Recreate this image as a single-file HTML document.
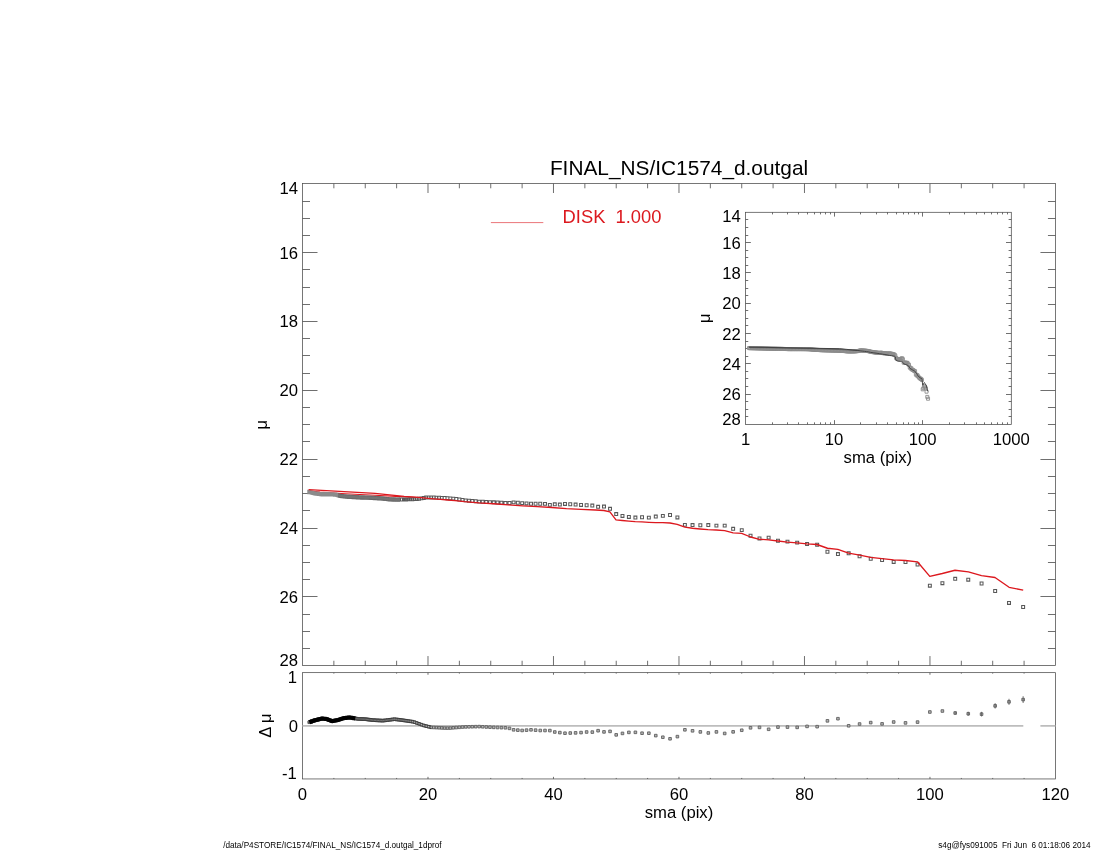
<!DOCTYPE html>
<html><head><meta charset="utf-8"><title>IC1574 1D profile</title>
<style>
html,body{margin:0;padding:0;background:#fff;}
body{width:1100px;height:850px;overflow:hidden;}
svg{display:block;font-family:"Liberation Sans",Arial,Helvetica,sans-serif;fill:#000;}
.fr{fill:none;stroke:#4a4a4a;stroke-width:0.75;}
.tk{stroke:#4a4a4a;stroke-width:0.8;fill:none;}
.sq{fill:none;stroke:#585858;stroke-width:1.05;}
.sq2{fill:#b4b4b4;stroke:#606060;stroke-width:0.9;}
.sq3{fill:none;stroke:#8c8c8c;stroke-width:0.9;}
.lab{font-size:16.67px;}
</style></head><body>
<svg width="1100" height="850" viewBox="0 0 1100 850">
<rect width="1100" height="850" fill="#fff"/>

<path class="tk" d="M333.87 183.6v4.7M333.87 665.45v-4.7M365.25 183.6v4.7M365.25 665.45v-4.7M396.62 183.6v4.7M396.62 665.45v-4.7M427.99 183.6v9.4M427.99 665.45v-9.4M459.36 183.6v4.7M459.36 665.45v-4.7M490.74 183.6v4.7M490.74 665.45v-4.7M522.11 183.6v4.7M522.11 665.45v-4.7M553.48 183.6v9.4M553.48 665.45v-9.4M584.86 183.6v4.7M584.86 665.45v-4.7M616.23 183.6v4.7M616.23 665.45v-4.7M647.6 183.6v4.7M647.6 665.45v-4.7M678.98 183.6v9.4M678.98 665.45v-9.4M710.35 183.6v4.7M710.35 665.45v-4.7M741.72 183.6v4.7M741.72 665.45v-4.7M773.09 183.6v4.7M773.09 665.45v-4.7M804.47 183.6v9.4M804.47 665.45v-9.4M835.84 183.6v4.7M835.84 665.45v-4.7M867.21 183.6v4.7M867.21 665.45v-4.7M898.59 183.6v4.7M898.59 665.45v-4.7M929.96 183.6v9.4M929.96 665.45v-9.4M961.33 183.6v4.7M961.33 665.45v-4.7M992.7 183.6v4.7M992.7 665.45v-4.7M1024.08 183.6v4.7M1024.08 665.45v-4.7M302.5 201.5h7.5M1055.45 201.5h-7.5M302.5 218.5h7.5M1055.45 218.5h-7.5M302.5 235.5h7.5M1055.45 235.5h-7.5M302.5 252.5h15M1055.45 252.5h-15M302.5 269.5h7.5M1055.45 269.5h-7.5M302.5 287.5h7.5M1055.45 287.5h-7.5M302.5 304.5h7.5M1055.45 304.5h-7.5M302.5 321.5h15M1055.45 321.5h-15M302.5 338.5h7.5M1055.45 338.5h-7.5M302.5 355.5h7.5M1055.45 355.5h-7.5M302.5 373.5h7.5M1055.45 373.5h-7.5M302.5 390.5h15M1055.45 390.5h-15M302.5 407.5h7.5M1055.45 407.5h-7.5M302.5 424.5h7.5M1055.45 424.5h-7.5M302.5 441.5h7.5M1055.45 441.5h-7.5M302.5 459.5h15M1055.45 459.5h-15M302.5 476.5h7.5M1055.45 476.5h-7.5M302.5 493.5h7.5M1055.45 493.5h-7.5M302.5 510.5h7.5M1055.45 510.5h-7.5M302.5 528.5h15M1055.45 528.5h-15M302.5 545.5h7.5M1055.45 545.5h-7.5M302.5 562.5h7.5M1055.45 562.5h-7.5M302.5 579.5h7.5M1055.45 579.5h-7.5M302.5 596.5h15M1055.45 596.5h-15M302.5 614.5h7.5M1055.45 614.5h-7.5M302.5 631.5h7.5M1055.45 631.5h-7.5M302.5 648.5h7.5M1055.45 648.5h-7.5"/>
<rect class="fr" x="302.5" y="183.6" width="752.95" height="481.85"/>
<path class="tk" d="M333.87 672.65v1M333.87 778.95v-1M365.25 672.65v1M365.25 778.95v-1M396.62 672.65v1M396.62 778.95v-1M427.99 672.65v2.1M427.99 778.95v-2.1M459.36 672.65v1M459.36 778.95v-1M490.74 672.65v1M490.74 778.95v-1M522.11 672.65v1M522.11 778.95v-1M553.48 672.65v2.1M553.48 778.95v-2.1M584.86 672.65v1M584.86 778.95v-1M616.23 672.65v1M616.23 778.95v-1M647.6 672.65v1M647.6 778.95v-1M678.98 672.65v2.1M678.98 778.95v-2.1M710.35 672.65v1M710.35 778.95v-1M741.72 672.65v1M741.72 778.95v-1M773.09 672.65v1M773.09 778.95v-1M804.47 672.65v2.1M804.47 778.95v-2.1M835.84 672.65v1M835.84 778.95v-1M867.21 672.65v1M867.21 778.95v-1M898.59 672.65v1M898.59 778.95v-1M929.96 672.65v2.1M929.96 778.95v-2.1M961.33 672.65v1M961.33 778.95v-1M992.7 672.65v1M992.7 778.95v-1M1024.08 672.65v1M1024.08 778.95v-1"/>
<rect class="fr" x="302.5" y="672.65" width="752.95" height="106.3"/>
<path d="M302.5 725.9H1023.3 M1040.4 725.9H1055.45" stroke="#bdbdbd" stroke-width="1.7" fill="none"/>
<path d="M308.6 490.8 L320 492.1 L345 493.7 L375 495.3 L400 496.6 L418.6 497.45" fill="none" stroke="#dc181e" stroke-width="1.15" stroke-linejoin="round"/>
<path d="M307.27 492.05 L309.37 492.05 L309.5 492.08 L309.64 492.12 L309.79 492.16 L309.93 492.19 L310.08 492.23 L310.23 492.27 L310.39 492.31 L310.54 492.36 L310.7 492.4 L310.87 492.44 L311.04 492.49 L311.21 492.53 L311.38 492.58 L311.56 492.62 L311.74 492.67 L311.92 492.72 L312.11 492.77 L312.31 492.82 L312.5 492.87 L312.7 492.93 L312.91 492.98 L313.11 493.03 L313.33 493.09 L313.54 493.15 L313.76 493.21 L313.99 493.27 L314.22 493.33 L314.45 493.39 L314.69 493.42 L314.94 493.45 L315.18 493.48 L315.44 493.52 L315.7 493.55 L315.96 493.58 L316.23 493.61 L316.5 493.65 L316.79 493.68 L317.07 493.72 L317.36 493.75 L317.66 493.79 L317.96 493.83 L318.27 493.87 L318.59 493.9 L318.91 493.94 L319.24 493.98 L319.57 494.03 L319.91 494.07 L320.26 494.11 L320.62 494.15 L320.98 494.2 L321.35 494.24 L321.73 494.29 L322.11 494.3 L322.5 494.3 L322.9 494.3 L323.31 494.3 L323.73 494.3 L324.15 494.3 L324.58 494.3 L325.03 494.3 L325.48 494.3 L325.94 494.3 L326.4 494.3 L326.88 494.3 L327.37 494.3 L327.87 494.3 L328.38 494.3 L328.89 494.3 L329.42 494.31 L329.96 494.32 L330.51 494.34 L331.07 494.35 L331.64 494.37 L332.22 494.39 L332.82 494.41 L333.42 494.47 L334.04 494.52 L334.67 494.58 L335.32 494.64 L335.97 494.7 L336.64 494.89 L337.32 495.1 L338.02 495.31 L338.73 495.52 L339.46 495.74 L340.2 495.92 L340.95 495.99 L341.72 496.07 L342.5 496.15 L343.3 496.24 L344.12 496.33 L344.95 496.43 L345.8 496.53 L346.67 496.63 L347.55 496.71 L348.45 496.76 L349.37 496.81 L350.31 496.86 L351.26 496.92 L352.24 496.97 L353.23 497.03 L354.25 497.09 L355.28 497.14 L356.34 497.2 L357.42 497.26 L358.51 497.32 L359.63 497.38 L360.78 497.44 L361.94 497.5 L363.13 497.54 L364.34 497.57 L365.58 497.6 L366.84 497.64 L368.13 497.67 L369.44 497.72 L370.78 497.79 L372.15 497.87 L373.54 497.94 L374.96 498.02 L376.41 498.1 L377.89 498.2 L379.39 498.3 L380.93 498.41 L382.5 498.52 L384.1 498.7 L385.73 498.88 L387.4 499.07 L389.1 499.26 L390.83 499.35 L392.59 499.43 L394.4 499.5 L396.23 499.58 L398.11 499.58 L400.02 499.56" fill="none" stroke="#8b8b8b" stroke-width="4.4" stroke-linecap="butt" stroke-linejoin="round"/>
<path d="M338.02 493.71 L338.73 493.92 L339.46 494.14 L340.2 494.32 L340.95 494.39 L341.72 494.47 L342.5 494.55 L343.3 494.64 L344.12 494.73 L344.95 494.83 L345.8 494.93 L346.67 495.03 L347.55 495.11 L348.45 495.16 L349.37 495.21 L350.31 495.26 L351.26 495.32 L352.24 495.37 L353.23 495.43 L354.25 495.49 L355.28 495.54 L356.34 495.6 L357.42 495.66 L358.51 495.72 L359.63 495.78 L360.78 495.84 L361.94 495.9 L363.13 495.94 L364.34 495.97 L365.58 496 L366.84 496.04 L368.13 496.07 L369.44 496.12 L370.78 496.19 L372.15 496.27 L373.54 496.34 L374.96 496.42 L376.41 496.5 L377.89 496.6 L379.39 496.7 L380.93 496.81 L382.5 496.92 L384.1 497.1 L385.73 497.28 L387.4 497.47 L389.1 497.66 L390.83 497.75 L392.59 497.83 L394.4 497.9 L396.23 497.98 L398.11 497.98 L400.02 497.96" fill="none" stroke="#4c4c4c" stroke-width="0.9" opacity="0.65"/>
<path d="M338.02 496.91 L338.73 497.12 L339.46 497.34 L340.2 497.52 L340.95 497.59 L341.72 497.67 L342.5 497.75 L343.3 497.84 L344.12 497.93 L344.95 498.03 L345.8 498.13 L346.67 498.23 L347.55 498.31 L348.45 498.36 L349.37 498.41 L350.31 498.46 L351.26 498.52 L352.24 498.57 L353.23 498.63 L354.25 498.69 L355.28 498.74 L356.34 498.8 L357.42 498.86 L358.51 498.92 L359.63 498.98 L360.78 499.04 L361.94 499.1 L363.13 499.14 L364.34 499.17 L365.58 499.2 L366.84 499.24 L368.13 499.27 L369.44 499.32 L370.78 499.39 L372.15 499.47 L373.54 499.54 L374.96 499.62 L376.41 499.7 L377.89 499.8 L379.39 499.9 L380.93 500.01 L382.5 500.12 L384.1 500.3 L385.73 500.48 L387.4 500.67 L389.1 500.86 L390.83 500.95 L392.59 501.03 L394.4 501.1 L396.23 501.18 L398.11 501.18 L400.02 501.16" fill="none" stroke="#4c4c4c" stroke-width="0.9" opacity="0.65"/>
<path d="M338.02 495.31 L338.73 495.52 L339.46 495.74 L340.2 495.92 L340.95 495.99 L341.72 496.07 L342.5 496.15 L343.3 496.24 L344.12 496.33 L344.95 496.43 L345.8 496.53 L346.67 496.63 L347.55 496.71 L348.45 496.76 L349.37 496.81 L350.31 496.86 L351.26 496.92 L352.24 496.97 L353.23 497.03 L354.25 497.09 L355.28 497.14 L356.34 497.2 L357.42 497.26 L358.51 497.32 L359.63 497.38 L360.78 497.44 L361.94 497.5 L363.13 497.54 L364.34 497.57 L365.58 497.6 L366.84 497.64 L368.13 497.67 L369.44 497.72 L370.78 497.79 L372.15 497.87 L373.54 497.94 L374.96 498.02 L376.41 498.1 L377.89 498.2 L379.39 498.3 L380.93 498.41 L382.5 498.52 L384.1 498.7 L385.73 498.88 L387.4 499.07 L389.1 499.26 L390.83 499.35 L392.59 499.43 L394.4 499.5 L396.23 499.58 L398.11 499.58 L400.02 499.56" fill="none" stroke="#555" stroke-width="2.4" opacity="0.4"/>
<path class="sq" d="M400.52 498.08h2.9v2.9h-2.9zM402.51 498.05h2.9v2.9h-2.9zM404.54 498h2.9v2.9h-2.9zM406.61 497.94h2.9v2.9h-2.9zM408.72 497.88h2.9v2.9h-2.9zM410.87 497.79h2.9v2.9h-2.9zM413.07 497.63h2.9v2.9h-2.9zM415.31 497.48h2.9v2.9h-2.9zM417.6 497.28h2.9v2.9h-2.9zM419.93 496.9h2.9v2.9h-2.9zM422.31 496.45h2.9v2.9h-2.9zM424.73 496h2.9v2.9h-2.9zM427.2 496h2.9v2.9h-2.9zM429.73 496h2.9v2.9h-2.9zM432.3 496.03h2.9v2.9h-2.9zM434.93 496.15h2.9v2.9h-2.9zM437.6 496.28h2.9v2.9h-2.9zM440.33 496.42h2.9v2.9h-2.9zM443.12 496.58h2.9v2.9h-2.9zM445.96 496.73h2.9v2.9h-2.9zM448.86 496.96h2.9v2.9h-2.9zM451.82 497.21h2.9v2.9h-2.9zM454.83 497.55h2.9v2.9h-2.9zM457.91 498.01h2.9v2.9h-2.9zM461.04 498.49h2.9v2.9h-2.9zM464.24 498.91h2.9v2.9h-2.9zM467.51 499.22h2.9v2.9h-2.9zM470.84 499.52h2.9v2.9h-2.9zM474.23 499.84h2.9v2.9h-2.9zM477.7 500.16h2.9v2.9h-2.9zM481.23 500.33h2.9v2.9h-2.9zM484.83 500.5h2.9v2.9h-2.9zM488.51 500.68h2.9v2.9h-2.9zM492.26 500.86h2.9v2.9h-2.9zM496.08 501.09h2.9v2.9h-2.9zM499.98 501.33h2.9v2.9h-2.9zM503.96 501.58h2.9v2.9h-2.9zM508.02 501.55h2.9v2.9h-2.9zM512.16 500.91h2.9v2.9h-2.9zM516.38 501.25h2.9v2.9h-2.9zM520.69 501.69h2.9v2.9h-2.9zM525.08 501.99h2.9v2.9h-2.9zM529.56 502.27h2.9v2.9h-2.9zM534.13 502.3h2.9v2.9h-2.9zM538.79 502.3h2.9v2.9h-2.9zM543.55 502.41h2.9v2.9h-2.9zM548.4 503.42h2.9v2.9h-2.9zM553.34 502.86h2.9v2.9h-2.9zM558.39 503.14h2.9v2.9h-2.9zM563.54 502.46h2.9v2.9h-2.9zM568.79 502.82h2.9v2.9h-2.9zM574.14 503.14h2.9v2.9h-2.9zM579.6 503.46h2.9v2.9h-2.9zM585.17 503.75h2.9v2.9h-2.9zM590.86 504.14h2.9v2.9h-2.9zM596.65 505.35h2.9v2.9h-2.9zM602.56 505.14h2.9v2.9h-2.9zM608.59 507.38h2.9v2.9h-2.9zM614.75 512.61h2.9v2.9h-2.9zM621.02 514.48h2.9v2.9h-2.9zM627.42 515.46h2.9v2.9h-2.9zM633.95 516.14h2.9v2.9h-2.9zM640.6 515.76h2.9v2.9h-2.9zM647.4 516.15h2.9v2.9h-2.9zM654.32 515.14h2.9v2.9h-2.9zM661.39 514.43h2.9v2.9h-2.9zM668.59 513.56h2.9v2.9h-2.9zM675.95 515.95h2.9v2.9h-2.9zM683.44 523.44h2.9v2.9h-2.9zM691.09 523.6h2.9v2.9h-2.9zM698.89 523.75h2.9v2.9h-2.9zM706.85 523.63h2.9v2.9h-2.9zM714.96 524.15h2.9v2.9h-2.9zM723.24 524.15h2.9v2.9h-2.9zM731.69 527.36h2.9v2.9h-2.9zM740.3 528.68h2.9v2.9h-2.9zM749.08 534.21h2.9v2.9h-2.9zM758.05 536.95h2.9v2.9h-2.9zM767.19 536.16h2.9v2.9h-2.9zM776.51 539.26h2.9v2.9h-2.9zM786.02 540.15h2.9v2.9h-2.9zM795.72 541.17h2.9v2.9h-2.9zM805.61 542.45h2.9v2.9h-2.9zM815.7 543.22h2.9v2.9h-2.9zM825.99 550.26h2.9v2.9h-2.9zM836.49 552.64h2.9v2.9h-2.9zM847.2 551.86h2.9v2.9h-2.9zM858.12 554.77h2.9v2.9h-2.9zM869.27 557.25h2.9v2.9h-2.9zM880.63 558.58h2.9v2.9h-2.9zM892.22 560.45h2.9v2.9h-2.9zM904.05 560.57h2.9v2.9h-2.9zM916.11 563.03h2.9v2.9h-2.9zM928.41 584.24h2.9v2.9h-2.9zM940.95 581.71h2.9v2.9h-2.9zM953.75 577.36h2.9v2.9h-2.9zM966.81 578.24h2.9v2.9h-2.9zM980.12 582.09h2.9v2.9h-2.9zM993.7 589.58h2.9v2.9h-2.9zM1007.56 601.47h2.9v2.9h-2.9zM1021.69 605.58h2.9v2.9h-2.9z"/>
<path d="M308.6 489.7 L375 493.45 L389.5 494.9 L404.1 496.4 L418.6 497.45 L425.9 498.2 L433.2 498.8 L440.5 499.3 L447.7 500 L455 500.6 L464.5 501.7 L479 502.9 L493.6 503.75 L508.2 504.9 L522.7 505.8 L537.3 506.65 L551.8 507.5 L566.4 508.7 L580.9 509.3 L595.5 510 L603.9 510.5 L609.9 511.8 L616 519.8 L622.25 520.5 L628.8 521.1 L635.2 521.7 L641.9 521.85 L648.9 522.3 L655.7 522.6 L662.7 522.7 L670 523 L677.2 524.3 L684.9 527.2 L692.5 528.25 L700.1 529 L707.9 529.6 L716.2 530 L724.7 530.7 L733.1 532.9 L741.7 533.3 L750.6 537 L759.45 539.3 L768.6 539.8 L777.9 541 L787.5 542.1 L797 542.9 L807 543.9 L816.9 544.5 L827.5 548.25 L837.85 549.3 L848.6 553.2 L859.7 555.1 L870.7 557.3 L881.9 558.7 L893.6 559.9 L905.4 560.5 L917.45 561.8 L929.8 576.4 L942.3 573.5 L955 570.25 L968.4 571.9 L981.5 575.6 L995 577.5 L1009.1 587.3 L1023.2 590.2" fill="none" stroke="#dc181e" stroke-width="1.35" stroke-linejoin="round"/>
<path class="sq2" d="M308.07 720.96h2.6v2.6h-2.6zM308.2 720.91h2.6v2.6h-2.6zM308.34 720.86h2.6v2.6h-2.6zM308.49 720.81h2.6v2.6h-2.6zM308.63 720.75h2.6v2.6h-2.6zM308.78 720.7h2.6v2.6h-2.6zM308.93 720.65h2.6v2.6h-2.6zM309.09 720.59h2.6v2.6h-2.6zM309.24 720.53h2.6v2.6h-2.6zM309.4 720.47h2.6v2.6h-2.6zM309.57 720.41h2.6v2.6h-2.6zM309.74 720.35h2.6v2.6h-2.6zM309.91 720.29h2.6v2.6h-2.6zM310.08 720.23h2.6v2.6h-2.6zM310.26 720.16h2.6v2.6h-2.6zM310.44 720.1h2.6v2.6h-2.6zM310.62 720.03h2.6v2.6h-2.6zM310.81 719.96h2.6v2.6h-2.6zM311.01 719.89h2.6v2.6h-2.6zM311.2 719.82h2.6v2.6h-2.6zM311.4 719.75h2.6v2.6h-2.6zM311.61 719.68h2.6v2.6h-2.6zM311.81 719.6h2.6v2.6h-2.6zM312.03 719.52h2.6v2.6h-2.6zM312.24 719.45h2.6v2.6h-2.6zM312.46 719.37h2.6v2.6h-2.6zM312.69 719.29h2.6v2.6h-2.6zM312.92 719.2h2.6v2.6h-2.6zM313.15 719.12h2.6v2.6h-2.6zM313.39 719.05h2.6v2.6h-2.6zM313.64 718.99h2.6v2.6h-2.6zM313.88 718.93h2.6v2.6h-2.6zM314.14 718.87h2.6v2.6h-2.6zM314.4 718.8h2.6v2.6h-2.6zM314.66 718.74h2.6v2.6h-2.6zM314.93 718.67h2.6v2.6h-2.6zM315.2 718.61h2.6v2.6h-2.6zM315.49 718.54h2.6v2.6h-2.6zM315.77 718.47h2.6v2.6h-2.6zM316.06 718.39h2.6v2.6h-2.6zM316.36 718.32h2.6v2.6h-2.6zM316.66 718.25h2.6v2.6h-2.6zM316.97 718.17h2.6v2.6h-2.6zM317.29 718.09h2.6v2.6h-2.6zM317.61 718.01h2.6v2.6h-2.6zM317.94 717.93h2.6v2.6h-2.6zM318.27 717.85h2.6v2.6h-2.6zM318.61 717.77h2.6v2.6h-2.6zM318.96 717.68h2.6v2.6h-2.6zM319.32 717.59h2.6v2.6h-2.6zM319.68 717.5h2.6v2.6h-2.6zM320.05 717.41h2.6v2.6h-2.6zM320.43 717.32h2.6v2.6h-2.6zM320.81 717.32h2.6v2.6h-2.6zM321.2 717.35h2.6v2.6h-2.6zM321.6 717.38h2.6v2.6h-2.6zM322.01 717.4h2.6v2.6h-2.6zM322.43 717.43h2.6v2.6h-2.6zM322.85 717.46h2.6v2.6h-2.6zM323.28 717.49h2.6v2.6h-2.6zM323.73 717.52h2.6v2.6h-2.6zM324.18 717.55h2.6v2.6h-2.6zM324.64 717.58h2.6v2.6h-2.6zM325.1 717.68h2.6v2.6h-2.6zM325.58 717.86h2.6v2.6h-2.6zM326.07 718.04h2.6v2.6h-2.6zM326.57 718.23h2.6v2.6h-2.6zM327.08 718.43h2.6v2.6h-2.6zM327.59 718.62h2.6v2.6h-2.6zM328.12 718.82h2.6v2.6h-2.6zM328.66 719.03h2.6v2.6h-2.6zM329.21 719.23h2.6v2.6h-2.6zM329.77 719.45h2.6v2.6h-2.6zM330.34 719.66h2.6v2.6h-2.6zM330.92 719.76h2.6v2.6h-2.6zM331.52 719.66h2.6v2.6h-2.6zM332.12 719.55h2.6v2.6h-2.6zM332.74 719.45h2.6v2.6h-2.6zM333.37 719.34h2.6v2.6h-2.6zM334.02 719.23h2.6v2.6h-2.6zM334.67 719.12h2.6v2.6h-2.6zM335.34 719h2.6v2.6h-2.6zM336.02 718.88h2.6v2.6h-2.6zM336.72 718.73h2.6v2.6h-2.6zM337.43 718.49h2.6v2.6h-2.6zM338.16 718.26h2.6v2.6h-2.6zM338.9 718.02h2.6v2.6h-2.6zM339.65 717.77h2.6v2.6h-2.6zM340.42 717.52h2.6v2.6h-2.6zM341.2 717.26h2.6v2.6h-2.6zM342 717h2.6v2.6h-2.6zM342.82 716.83h2.6v2.6h-2.6zM343.65 716.73h2.6v2.6h-2.6zM344.5 716.62h2.6v2.6h-2.6zM345.37 716.51h2.6v2.6h-2.6zM346.25 716.4h2.6v2.6h-2.6zM347.15 716.28h2.6v2.6h-2.6zM348.07 716.17h2.6v2.6h-2.6zM349.01 716.28h2.6v2.6h-2.6zM349.96 716.44h2.6v2.6h-2.6zM350.94 716.61h2.6v2.6h-2.6zM351.93 716.77h2.6v2.6h-2.6zM352.95 716.94h2.6v2.6h-2.6zM353.98 717.11h2.6v2.6h-2.6zM355.04 717.29h2.6v2.6h-2.6zM356.12 717.47h2.6v2.6h-2.6zM357.21 717.61h2.6v2.6h-2.6zM358.33 717.66h2.6v2.6h-2.6zM359.48 717.71h2.6v2.6h-2.6zM360.64 717.75h2.6v2.6h-2.6zM361.83 717.8h2.6v2.6h-2.6zM363.04 717.85h2.6v2.6h-2.6zM364.28 717.91h2.6v2.6h-2.6zM365.54 718.07h2.6v2.6h-2.6zM366.83 718.23h2.6v2.6h-2.6zM368.14 718.39h2.6v2.6h-2.6zM369.48 718.56h2.6v2.6h-2.6zM370.85 718.73h2.6v2.6h-2.6zM372.24 718.85h2.6v2.6h-2.6zM373.66 718.92h2.6v2.6h-2.6zM375.11 719h2.6v2.6h-2.6zM376.59 719.08h2.6v2.6h-2.6zM378.09 719.16h2.6v2.6h-2.6zM379.63 719.24h2.6v2.6h-2.6zM381.2 719.33h2.6v2.6h-2.6zM382.8 719.2h2.6v2.6h-2.6zM384.43 719h2.6v2.6h-2.6zM386.1 718.79h2.6v2.6h-2.6zM387.8 718.58h2.6v2.6h-2.6zM389.53 718.36h2.6v2.6h-2.6zM391.29 718.14h2.6v2.6h-2.6zM393.1 717.91h2.6v2.6h-2.6zM394.93 718.11h2.6v2.6h-2.6zM396.81 718.34h2.6v2.6h-2.6zM398.72 718.58h2.6v2.6h-2.6zM400.67 718.82h2.6v2.6h-2.6zM402.66 719.11h2.6v2.6h-2.6zM404.69 719.41h2.6v2.6h-2.6zM406.76 719.71h2.6v2.6h-2.6zM408.87 720.02h2.6v2.6h-2.6zM411.02 720.33h2.6v2.6h-2.6zM413.22 720.87h2.6v2.6h-2.6zM415.46 721.68h2.6v2.6h-2.6zM417.75 722.5h2.6v2.6h-2.6zM420.08 723.35h2.6v2.6h-2.6zM422.46 724.19h2.6v2.6h-2.6zM424.88 724.8h2.6v2.6h-2.6zM427.35 725.43h2.6v2.6h-2.6zM429.88 726.02h2.6v2.6h-2.6zM432.45 726.16h2.6v2.6h-2.6zM435.08 726.3h2.6v2.6h-2.6zM437.75 726.45h2.6v2.6h-2.6zM440.48 726.6h2.6v2.6h-2.6zM443.27 726.75h2.6v2.6h-2.6zM446.11 726.79h2.6v2.6h-2.6zM449.01 726.75h2.6v2.6h-2.6zM451.97 726.51h2.6v2.6h-2.6zM454.98 726.26h2.6v2.6h-2.6zM458.06 726.02h2.6v2.6h-2.6zM461.19 725.76h2.6v2.6h-2.6zM464.39 725.58h2.6v2.6h-2.6zM467.66 725.51h2.6v2.6h-2.6zM470.99 725.44h2.6v2.6h-2.6zM474.38 725.37h2.6v2.6h-2.6zM477.85 725.3h2.6v2.6h-2.6zM481.38 725.49h2.6v2.6h-2.6zM484.98 725.67h2.6v2.6h-2.6zM488.66 725.86h2.6v2.6h-2.6zM492.41 726.05h2.6v2.6h-2.6zM496.23 726.2h2.6v2.6h-2.6zM500.13 726.35h2.6v2.6h-2.6zM504.11 726.49h2.6v2.6h-2.6zM508.17 727.07h2.6v2.6h-2.6zM512.31 728.52h2.6v2.6h-2.6zM516.53 728.84h2.6v2.6h-2.6zM520.84 729.16h2.6v2.6h-2.6zM525.23 728.86h2.6v2.6h-2.6zM529.71 728.52h2.6v2.6h-2.6zM534.28 728.86h2.6v2.6h-2.6zM538.94 729.2h2.6v2.6h-2.6zM543.7 729.2h2.6v2.6h-2.6zM548.55 729.27h2.6v2.6h-2.6zM553.49 730.71h2.6v2.6h-2.6zM558.54 731.3h2.6v2.6h-2.6zM563.69 731.9h2.6v2.6h-2.6zM568.94 731.74h2.6v2.6h-2.6zM574.29 731.57h2.6v2.6h-2.6zM579.75 731.28h2.6v2.6h-2.6zM585.32 730.71h2.6v2.6h-2.6zM591.01 730.8h2.6v2.6h-2.6zM596.8 729.4h2.6v2.6h-2.6zM602.71 730.59h2.6v2.6h-2.6zM608.74 730.09h2.6v2.6h-2.6zM614.9 733.55h2.6v2.6h-2.6zM621.17 732.11h2.6v2.6h-2.6zM627.57 731.1h2.6v2.6h-2.6zM634.1 731.03h2.6v2.6h-2.6zM640.75 731.9h2.6v2.6h-2.6zM647.55 731.9h2.6v2.6h-2.6zM654.47 734.32h2.6v2.6h-2.6zM661.54 735.93h2.6v2.6h-2.6zM668.74 737.49h2.6v2.6h-2.6zM676.1 735.32h2.6v2.6h-2.6zM683.59 728.51h2.6v2.6h-2.6zM691.24 729.51h2.6v2.6h-2.6zM699.04 730.59h2.6v2.6h-2.6zM707 731.64h2.6v2.6h-2.6zM715.11 730.59h2.6v2.6h-2.6zM723.39 732.15h2.6v2.6h-2.6zM731.84 730.54h2.6v2.6h-2.6zM740.45 728.94h2.6v2.6h-2.6zM749.23 726.52h2.6v2.6h-2.6zM758.2 726.11h2.6v2.6h-2.6zM767.34 727.99h2.6v2.6h-2.6zM776.66 725.8h2.6v2.6h-2.6zM786.17 725.8h2.6v2.6h-2.6zM795.87 726.08h2.6v2.6h-2.6zM805.76 725.1h2.6v2.6h-2.6zM815.85 725.36h2.6v2.6h-2.6zM826.14 719.53h2.6v2.6h-2.6zM836.64 717.41h2.6v2.6h-2.6zM847.35 724.49h2.6v2.6h-2.6zM858.27 722.72h2.6v2.6h-2.6zM869.42 721.3h2.6v2.6h-2.6zM880.78 722.57h2.6v2.6h-2.6zM892.37 720.71h2.6v2.6h-2.6zM904.2 721.59h2.6v2.6h-2.6zM916.26 720.81h2.6v2.6h-2.6zM928.56 710.7h2.6v2.6h-2.6zM941.1 709.72h2.6v2.6h-2.6zM953.9 711.71h2.6v2.6h-2.6zM955.2 711.35v3.32M966.96 712.44h2.6v2.6h-2.6zM968.26 711.75v3.98M980.27 712.86h2.6v2.6h-2.6zM981.57 711.83v4.65M993.85 704.56h2.6v2.6h-2.6zM995.15 703.19v5.34M1007.71 700.53h2.6v2.6h-2.6zM1009.01 698.81v6.04M1021.84 698.31h2.6v2.6h-2.6zM1023.14 696.23v6.75"/>
<path d="M352.24 716.61 L353.23 716.77 L354.25 716.94 L355.28 717.11 L356.34 717.29 L357.42 717.47 L358.51 717.61 L359.63 717.66 L360.78 717.71 L361.94 717.75 L363.13 717.8 L364.34 717.85 L365.58 717.91 L366.84 718.07 L368.13 718.23 L369.44 718.39 L370.78 718.56 L372.15 718.73 L373.54 718.85 L374.96 718.92 L376.41 719 L377.89 719.08 L379.39 719.16 L380.93 719.24 L382.5 719.33 L384.1 719.2 L385.73 719 L387.4 718.79 L389.1 718.58 L390.83 718.36 L392.59 718.14 L394.4 717.91 L396.23 718.11 L398.11 718.34 L400.02 718.58 L401.97 718.82 L403.96 719.11 L405.99 719.41 L408.06 719.71 L410.17 720.02 L412.32 720.33 L414.52 720.87 L416.76 721.68 L419.05 722.5 L421.38 723.35 L423.76 724.19 L426.18 724.8 L428.65 725.43 L431.18 726.02" fill="none" stroke="#2a2a2a" stroke-width="0.9" opacity="0.85"/>
<path d="M352.24 719.21 L353.23 719.37 L354.25 719.54 L355.28 719.71 L356.34 719.89 L357.42 720.07 L358.51 720.21 L359.63 720.26 L360.78 720.31 L361.94 720.35 L363.13 720.4 L364.34 720.45 L365.58 720.51 L366.84 720.67 L368.13 720.83 L369.44 720.99 L370.78 721.16 L372.15 721.33 L373.54 721.45 L374.96 721.52 L376.41 721.6 L377.89 721.68 L379.39 721.76 L380.93 721.84 L382.5 721.93 L384.1 721.8 L385.73 721.6 L387.4 721.39 L389.1 721.18 L390.83 720.96 L392.59 720.74 L394.4 720.51 L396.23 720.71 L398.11 720.94 L400.02 721.18 L401.97 721.42 L403.96 721.71 L405.99 722.01 L408.06 722.31 L410.17 722.62 L412.32 722.93 L414.52 723.47 L416.76 724.28 L419.05 725.1 L421.38 725.95 L423.76 726.79 L426.18 727.4 L428.65 728.03 L431.18 728.62" fill="none" stroke="#2a2a2a" stroke-width="0.9" opacity="0.85"/>
<path d="M309.37 722.26 L309.5 722.21 L309.64 722.16 L309.79 722.11 L309.93 722.05 L310.08 722 L310.23 721.95 L310.39 721.89 L310.54 721.83 L310.7 721.77 L310.87 721.71 L311.04 721.65 L311.21 721.59 L311.38 721.53 L311.56 721.46 L311.74 721.4 L311.92 721.33 L312.11 721.26 L312.31 721.19 L312.5 721.12 L312.7 721.05 L312.91 720.98 L313.11 720.9 L313.33 720.82 L313.54 720.75 L313.76 720.67 L313.99 720.59 L314.22 720.5 L314.45 720.42 L314.69 720.35 L314.94 720.29 L315.18 720.23 L315.44 720.17 L315.7 720.1 L315.96 720.04 L316.23 719.97 L316.5 719.91 L316.79 719.84 L317.07 719.77 L317.36 719.69 L317.66 719.62 L317.96 719.55 L318.27 719.47 L318.59 719.39 L318.91 719.31 L319.24 719.23 L319.57 719.15 L319.91 719.07 L320.26 718.98 L320.62 718.89 L320.98 718.8 L321.35 718.71 L321.73 718.62 L322.11 718.62 L322.5 718.65 L322.9 718.68 L323.31 718.7 L323.73 718.73 L324.15 718.76 L324.58 718.79 L325.03 718.82 L325.48 718.85 L325.94 718.88 L326.4 718.98 L326.88 719.16 L327.37 719.34 L327.87 719.53 L328.38 719.73 L328.89 719.92 L329.42 720.12 L329.96 720.33 L330.51 720.53 L331.07 720.75 L331.64 720.96 L332.22 721.06 L332.82 720.96 L333.42 720.85 L334.04 720.75 L334.67 720.64 L335.32 720.53 L335.97 720.42 L336.64 720.3 L337.32 720.18 L338.02 720.03 L338.73 719.79 L339.46 719.56 L340.2 719.32 L340.95 719.07 L341.72 718.82 L342.5 718.56 L343.3 718.3 L344.12 718.13 L344.95 718.03 L345.8 717.92 L346.67 717.81 L347.55 717.7 L348.45 717.58 L349.37 717.47 L350.31 717.58 L351.26 717.74 L352.24 717.91 L353.23 718.07 L354.25 718.24 L355.28 718.41" fill="none" stroke="#000" stroke-width="4.2" stroke-linecap="butt" stroke-linejoin="round"/>
<path class="tk" d="M772.5 212.3v2.1M772.5 424.45v-2.1M787.5 212.3v2.1M787.5 424.45v-2.1M798.5 212.3v2.1M798.5 424.45v-2.1M807.5 212.3v2.1M807.5 424.45v-2.1M814.5 212.3v2.1M814.5 424.45v-2.1M820.5 212.3v2.1M820.5 424.45v-2.1M825.5 212.3v2.1M825.5 424.45v-2.1M830.5 212.3v2.1M830.5 424.45v-2.1M834.5 212.3v4.3M834.5 424.45v-4.3M860.5 212.3v2.1M860.5 424.45v-2.1M876.5 212.3v2.1M876.5 424.45v-2.1M887.5 212.3v2.1M887.5 424.45v-2.1M896.5 212.3v2.1M896.5 424.45v-2.1M903.5 212.3v2.1M903.5 424.45v-2.1M908.5 212.3v2.1M908.5 424.45v-2.1M914.5 212.3v2.1M914.5 424.45v-2.1M918.5 212.3v2.1M918.5 424.45v-2.1M922.5 212.3v4.3M922.5 424.45v-4.3M949.5 212.3v2.1M949.5 424.45v-2.1M964.5 212.3v2.1M964.5 424.45v-2.1M976.5 212.3v2.1M976.5 424.45v-2.1M984.5 212.3v2.1M984.5 424.45v-2.1M991.5 212.3v2.1M991.5 424.45v-2.1M997.5 212.3v2.1M997.5 424.45v-2.1M1002.5 212.3v2.1M1002.5 424.45v-2.1M1007.5 212.3v2.1M1007.5 424.45v-2.1M745.55 219.5h2.7M1011.3 219.5h-2.7M745.55 227.5h2.7M1011.3 227.5h-2.7M745.55 235.5h2.7M1011.3 235.5h-2.7M745.55 242.5h5.3M1011.3 242.5h-5.3M745.55 250.5h2.7M1011.3 250.5h-2.7M745.55 257.5h2.7M1011.3 257.5h-2.7M745.55 265.5h2.7M1011.3 265.5h-2.7M745.55 272.5h5.3M1011.3 272.5h-5.3M745.55 280.5h2.7M1011.3 280.5h-2.7M745.55 288.5h2.7M1011.3 288.5h-2.7M745.55 295.5h2.7M1011.3 295.5h-2.7M745.55 303.5h5.3M1011.3 303.5h-5.3M745.55 310.5h2.7M1011.3 310.5h-2.7M745.55 318.5h2.7M1011.3 318.5h-2.7M745.55 325.5h2.7M1011.3 325.5h-2.7M745.55 333.5h5.3M1011.3 333.5h-5.3M745.55 341.5h2.7M1011.3 341.5h-2.7M745.55 348.5h2.7M1011.3 348.5h-2.7M745.55 356.5h2.7M1011.3 356.5h-2.7M745.55 363.5h5.3M1011.3 363.5h-5.3M745.55 371.5h2.7M1011.3 371.5h-2.7M745.55 378.5h2.7M1011.3 378.5h-2.7M745.55 386.5h2.7M1011.3 386.5h-2.7M745.55 394.5h5.3M1011.3 394.5h-5.3M745.55 401.5h2.7M1011.3 401.5h-2.7M745.55 409.5h2.7M1011.3 409.5h-2.7M745.55 416.5h2.7M1011.3 416.5h-2.7"/>
<rect class="fr" x="745.55" y="212.3" width="265.75" height="212.15"/>
<path class="sq3" d="M747.51 346.6h3v3h-3zM748.27 346.62h3v3h-3zM749.04 346.64h3v3h-3zM749.8 346.65h3v3h-3zM750.56 346.67h3v3h-3zM751.32 346.69h3v3h-3zM752.08 346.7h3v3h-3zM752.85 346.72h3v3h-3zM753.61 346.74h3v3h-3zM754.37 346.76h3v3h-3zM755.13 346.78h3v3h-3zM755.89 346.8h3v3h-3zM756.65 346.82h3v3h-3zM757.42 346.84h3v3h-3zM758.18 346.86h3v3h-3zM758.94 346.88h3v3h-3zM759.7 346.9h3v3h-3zM760.46 346.92h3v3h-3zM761.23 346.94h3v3h-3zM761.99 346.97h3v3h-3zM762.75 346.99h3v3h-3zM763.51 347.01h3v3h-3zM764.27 347.04h3v3h-3zM765.03 347.06h3v3h-3zM765.8 347.09h3v3h-3zM766.56 347.11h3v3h-3zM767.32 347.14h3v3h-3zM768.08 347.17h3v3h-3zM768.84 347.19h3v3h-3zM769.61 347.21h3v3h-3zM770.37 347.22h3v3h-3zM771.13 347.24h3v3h-3zM771.89 347.25h3v3h-3zM772.65 347.26h3v3h-3zM773.42 347.28h3v3h-3zM774.18 347.29h3v3h-3zM774.94 347.31h3v3h-3zM775.7 347.32h3v3h-3zM776.46 347.34h3v3h-3zM777.22 347.35h3v3h-3zM777.99 347.37h3v3h-3zM778.75 347.39h3v3h-3zM779.51 347.4h3v3h-3zM780.27 347.42h3v3h-3zM781.03 347.44h3v3h-3zM781.8 347.46h3v3h-3zM782.56 347.47h3v3h-3zM783.32 347.49h3v3h-3zM784.08 347.51h3v3h-3zM784.84 347.53h3v3h-3zM785.6 347.55h3v3h-3zM786.37 347.57h3v3h-3zM787.13 347.59h3v3h-3zM787.89 347.6h3v3h-3zM788.65 347.6h3v3h-3zM789.41 347.6h3v3h-3zM790.18 347.6h3v3h-3zM790.94 347.6h3v3h-3zM791.7 347.6h3v3h-3zM792.46 347.6h3v3h-3zM793.22 347.6h3v3h-3zM793.98 347.6h3v3h-3zM794.75 347.6h3v3h-3zM795.51 347.6h3v3h-3zM796.27 347.6h3v3h-3zM797.03 347.6h3v3h-3zM797.79 347.6h3v3h-3zM798.56 347.6h3v3h-3zM799.32 347.6h3v3h-3zM800.08 347.6h3v3h-3zM800.84 347.61h3v3h-3zM801.6 347.61h3v3h-3zM802.36 347.62h3v3h-3zM803.13 347.63h3v3h-3zM803.89 347.63h3v3h-3zM804.65 347.64h3v3h-3zM805.41 347.67h3v3h-3zM806.17 347.69h3v3h-3zM806.94 347.72h3v3h-3zM807.7 347.74h3v3h-3zM808.46 347.77h3v3h-3zM809.22 347.86h3v3h-3zM809.98 347.95h3v3h-3zM810.74 348.04h3v3h-3zM811.51 348.13h3v3h-3zM812.27 348.23h3v3h-3zM813.03 348.31h3v3h-3zM813.79 348.34h3v3h-3zM814.55 348.38h3v3h-3zM815.32 348.41h3v3h-3zM816.08 348.45h3v3h-3zM816.84 348.49h3v3h-3zM817.6 348.53h3v3h-3zM818.36 348.58h3v3h-3zM819.12 348.62h3v3h-3zM819.89 348.66h3v3h-3zM820.65 348.68h3v3h-3zM821.41 348.7h3v3h-3zM822.17 348.72h3v3h-3zM822.93 348.75h3v3h-3zM823.7 348.77h3v3h-3zM824.46 348.8h3v3h-3zM825.22 348.82h3v3h-3zM825.98 348.85h3v3h-3zM826.74 348.87h3v3h-3zM827.51 348.9h3v3h-3zM828.27 348.93h3v3h-3zM829.03 348.95h3v3h-3zM829.79 348.98h3v3h-3zM830.55 349.01h3v3h-3zM831.31 349.02h3v3h-3zM832.08 349.04h3v3h-3zM832.84 349.05h3v3h-3zM833.6 349.07h3v3h-3zM834.36 349.08h3v3h-3zM835.12 349.1h3v3h-3zM835.89 349.13h3v3h-3zM836.65 349.17h3v3h-3zM837.41 349.2h3v3h-3zM838.17 349.23h3v3h-3zM838.93 349.27h3v3h-3zM839.69 349.31h3v3h-3zM840.46 349.36h3v3h-3zM841.22 349.4h3v3h-3zM841.98 349.45h3v3h-3zM842.74 349.53h3v3h-3zM843.5 349.61h3v3h-3zM844.27 349.69h3v3h-3zM845.03 349.78h3v3h-3zM845.79 349.82h3v3h-3zM846.55 349.85h3v3h-3zM847.31 349.89h3v3h-3zM848.07 349.92h3v3h-3zM848.84 349.92h3v3h-3zM849.6 349.91h3v3h-3zM850.36 349.9h3v3h-3zM851.12 349.89h3v3h-3zM851.88 349.86h3v3h-3zM852.65 349.84h3v3h-3zM853.41 349.81h3v3h-3zM854.17 349.77h3v3h-3zM854.93 349.7h3v3h-3zM855.69 349.63h3v3h-3zM856.45 349.55h3v3h-3zM857.22 349.38h3v3h-3zM857.98 349.18h3v3h-3zM858.74 348.98h3v3h-3zM859.5 348.98h3v3h-3zM860.26 348.98h3v3h-3zM861.03 348.99h3v3h-3zM861.79 349.05h3v3h-3zM862.55 349.11h3v3h-3zM863.31 349.17h3v3h-3zM864.07 349.24h3v3h-3zM864.83 349.31h3v3h-3zM865.6 349.41h3v3h-3zM866.36 349.51h3v3h-3zM867.12 349.66h3v3h-3zM867.88 349.87h3v3h-3zM868.64 350.08h3v3h-3zM869.41 350.26h3v3h-3zM870.17 350.4h3v3h-3zM870.93 350.53h3v3h-3zM871.69 350.67h3v3h-3zM872.45 350.81h3v3h-3zM873.22 350.89h3v3h-3zM873.98 350.96h3v3h-3zM874.74 351.04h3v3h-3zM875.5 351.12h3v3h-3zM876.26 351.22h3v3h-3zM877.02 351.33h3v3h-3zM877.79 351.44h3v3h-3zM878.55 351.43h3v3h-3zM879.31 351.14h3v3h-3zM880.07 351.29h3v3h-3zM880.83 351.49h3v3h-3zM881.6 351.62h3v3h-3zM882.36 351.74h3v3h-3zM883.12 351.76h3v3h-3zM883.88 351.76h3v3h-3zM884.64 351.81h3v3h-3zM885.4 352.25h3v3h-3zM886.17 352h3v3h-3zM886.93 352.13h3v3h-3zM887.69 351.83h3v3h-3zM888.45 351.98h3v3h-3zM889.21 352.13h3v3h-3zM889.98 352.27h3v3h-3zM890.74 352.39h3v3h-3zM891.5 352.57h3v3h-3zM892.26 353.1h3v3h-3zM893.02 353.01h3v3h-3zM893.78 353.99h3v3h-3zM894.55 356.3h3v3h-3zM895.31 357.12h3v3h-3zM896.07 357.55h3v3h-3zM896.83 357.85h3v3h-3zM897.59 357.68h3v3h-3zM898.36 357.85h3v3h-3zM899.12 357.41h3v3h-3zM899.88 357.1h3v3h-3zM900.64 356.72h3v3h-3zM901.4 357.76h3v3h-3zM902.16 361.07h3v3h-3zM902.93 361.13h3v3h-3zM903.69 361.2h3v3h-3zM904.45 361.15h3v3h-3zM905.21 361.38h3v3h-3zM905.97 361.38h3v3h-3zM906.74 362.79h3v3h-3zM907.5 363.37h3v3h-3zM908.26 365.81h3v3h-3zM909.02 367.01h3v3h-3zM909.78 366.67h3v3h-3zM910.54 368.03h3v3h-3zM911.31 368.42h3v3h-3zM912.07 368.87h3v3h-3zM912.83 369.44h3v3h-3zM913.59 369.77h3v3h-3zM914.35 372.87h3v3h-3zM915.12 373.92h3v3h-3zM915.88 373.58h3v3h-3zM916.64 374.86h3v3h-3zM917.4 375.95h3v3h-3zM918.16 376.54h3v3h-3zM918.92 377.36h3v3h-3zM919.69 377.41h3v3h-3zM920.45 378.5h3v3h-3zM921.21 387.83h3v3h-3zM921.97 386.72h3v3h-3zM922.73 384.81h3v3h-3zM923.5 385.19h3v3h-3zM924.26 386.89h3v3h-3zM925.02 390.18h3v3h-3zM925.78 395.42h3v3h-3zM926.54 397.23h3v3h-3z"/>
<path d="M748.87 347.55 L785.01 348.13 L819.15 348.83 L839.69 349.54 L851.09 350.11 L857.81 350.48" fill="none" stroke="#555" stroke-width="0.7"/>
<path d="M748.87 347.07 L839.69 348.72 L846.71 349.36 L852.67 350.02 L857.81 350.48 L860.15 350.81 L862.36 351.08 L864.45 351.3 L866.41 351.61 L868.3 351.87 L870.62 352.35 L873.92 352.88 L876.98 353.26 L879.81 353.76 L882.43 354.16 L884.9 354.53 L887.21 354.91 L889.4 355.44 L891.45 355.7 L893.42 356.01 L894.51 356.23 L895.27 356.8 L896.02 360.32 L896.78 360.63 L897.56 360.9 L898.31 361.16 L899.08 361.23 L899.86 361.42 L900.61 361.56 L901.36 361.6 L902.14 361.73 L902.88 362.3 L903.67 363.58 L904.42 364.04 L905.16 364.37 L905.91 364.64 L906.69 364.81 L907.47 365.12 L908.23 366.09 L908.99 366.27 L909.76 367.9 L910.52 368.91 L911.28 369.13 L912.04 369.66 L912.81 370.14 L913.56 370.49 L914.33 370.93 L915.07 371.2 L915.86 372.85 L916.61 373.31 L917.37 375.03 L918.15 375.86 L918.9 376.83 L919.65 377.45 L920.42 377.98 L921.18 378.24 L921.94 378.81 L922.71 385.24 L923.47 383.97 L924.22 382.54 L925 383.26 L925.75 384.89 L926.51 385.73 L927.29 390.04 L928.05 391.32" fill="none" stroke="#3a3a3a" stroke-width="0.9"/>
<text x="679" y="175.4" text-anchor="middle" style="font-size:20.83px">FINAL_NS/IC1574_d.outgal</text>
<path d="M490.9 222.6H543.3" stroke="#dc181e" stroke-width="0.6"/>
<text x="562.6" y="223.0" style="font-size:18.33px;fill:#dc181e;white-space:pre" xml:space="preserve">DISK  1.000</text>
<text class="lab" x="298.1" y="193.8" text-anchor="end">14</text>
<text class="lab" x="298.1" y="258.54" text-anchor="end">16</text>
<text class="lab" x="298.1" y="327.37" text-anchor="end">18</text>
<text class="lab" x="298.1" y="396.21" text-anchor="end">20</text>
<text class="lab" x="298.1" y="465.04" text-anchor="end">22</text>
<text class="lab" x="298.1" y="533.88" text-anchor="end">24</text>
<text class="lab" x="298.1" y="602.71" text-anchor="end">26</text>
<text class="lab" x="298.1" y="665.8" text-anchor="end">28</text>
<text class="lab" x="297" y="682.8" text-anchor="end">1</text>
<text class="lab" x="298.1" y="731.9" text-anchor="end">0</text>
<text class="lab" x="296.8" y="779.1" text-anchor="end">-1</text>
<text class="lab" x="302.5" y="800.3" text-anchor="middle">0</text>
<text class="lab" x="427.99" y="800.3" text-anchor="middle">20</text>
<text class="lab" x="553.48" y="800.3" text-anchor="middle">40</text>
<text class="lab" x="678.98" y="800.3" text-anchor="middle">60</text>
<text class="lab" x="804.47" y="800.3" text-anchor="middle">80</text>
<text class="lab" x="929.96" y="800.3" text-anchor="middle">100</text>
<text class="lab" x="1055.45" y="800.3" text-anchor="middle">120</text>
<text class="lab" x="679" y="817.6" text-anchor="middle">sma (pix)</text>
<text class="lab" transform="translate(266.5,424.6) rotate(-90)" text-anchor="middle">μ</text>
<text class="lab" transform="translate(271,725.5) rotate(-90)" text-anchor="middle">Δ μ</text>
<text class="lab" x="740.7" y="221.8" text-anchor="end">14</text>
<text class="lab" x="740.7" y="248.71" text-anchor="end">16</text>
<text class="lab" x="740.7" y="279.01" text-anchor="end">18</text>
<text class="lab" x="740.7" y="309.32" text-anchor="end">20</text>
<text class="lab" x="740.7" y="339.63" text-anchor="end">22</text>
<text class="lab" x="740.7" y="369.94" text-anchor="end">24</text>
<text class="lab" x="740.7" y="400.24" text-anchor="end">26</text>
<text class="lab" x="740.7" y="425" text-anchor="end">28</text>
<text class="lab" x="745.55" y="445.4" text-anchor="middle">1</text>
<text class="lab" x="834.13" y="445.4" text-anchor="middle">10</text>
<text class="lab" x="922.72" y="445.4" text-anchor="middle">100</text>
<text class="lab" x="1011.3" y="445.4" text-anchor="middle">1000</text>
<text class="lab" x="877.8" y="463" text-anchor="middle">sma (pix)</text>
<text class="lab" transform="translate(709.6,318.2) rotate(-90)" text-anchor="middle">μ</text>
<text x="223.2" y="848.2" style="font-size:8.18px">/data/P4STORE/IC1574/FINAL_NS/IC1574_d.outgal_1dprof</text>
<text x="1090.6" y="848.2" text-anchor="end" style="font-size:8.18px;white-space:pre" xml:space="preserve">s4g@fys091005  Fri Jun  6 01:18:06 2014</text>
</svg></body></html>
